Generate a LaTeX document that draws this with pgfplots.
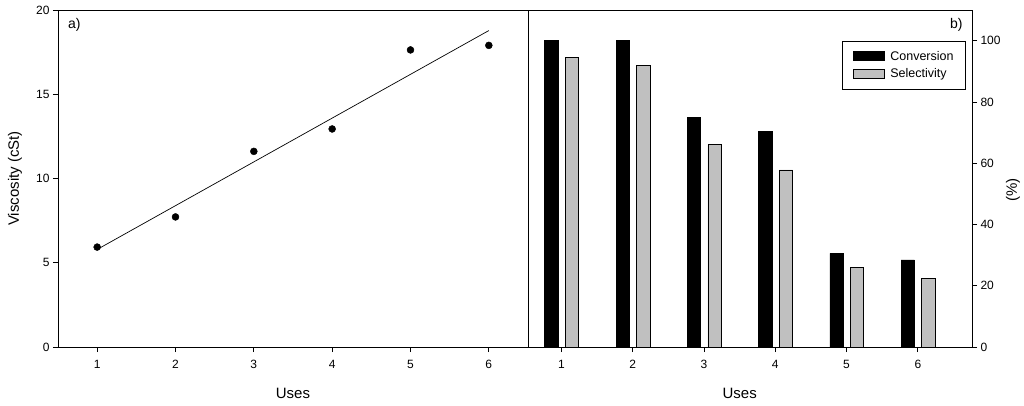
\documentclass[border=0pt]{standalone}
\usepackage{fontspec}
\setmainfont{Liberation Sans}
\usepackage{pgfplots}
\pgfplotsset{compat=1.18}
\definecolor{selgray}{HTML}{C0C0C0}

\pgfplotsset{
  panel/.style={
    scale only axis, height=337pt, anchor=south west,
    axis line style={line width=0.9pt},
    tick style={black, line width=0.8pt},
    tick align=outside, major tick length=5pt,
    tick label style={font=\fontsize{12}{14}\selectfont},
    xticklabel style={yshift=-5pt},
    label style={font=\fontsize{15}{17}\selectfont},
    /pgf/number format/assume math mode=true,
    xtick={1,...,6}, xtick pos=bottom,
  },
  barleg/.style={legend image code/.code={\draw[##1,line width=0.8pt] (0pt,-4.5pt) rectangle (31pt,4.5pt);}},
}

\begin{document}
\begin{tikzpicture}
\useasboundingbox (0pt,0pt) rectangle (1024pt,405pt);

% a) viscosity vs uses
\begin{axis}[panel, at={(58pt,58pt)}, width=470pt,
  xmin=0.5, xmax=6.5, ymin=0, ymax=20, ytick={0,5,...,20}, ytick pos=left,
  xlabel={Uses}, ylabel={Viscosity (cSt)},
  xlabel style={at={(axis description cs:0.5,-0.1365)}, anchor=center},
  ylabel style={at={(axis description cs:-0.0915,0.5)}, anchor=center},
]
\addplot[black, line width=0.7pt, no marks] coordinates {(1,5.79) (6,18.78)};
\addplot[only marks, mark=*, mark size=3.5pt, black] coordinates {
  (1,5.93) (2,7.72) (3,11.61) (4,12.94) (5,17.63) (6,17.90)};
\node[anchor=west, font=\fontsize{14}{16}\selectfont] at (axis description cs:0.014,0.955) {a)};
\end{axis}

% b) conversion and selectivity
\begin{axis}[panel, at={(528pt,58pt)}, width=444pt,
  xmin=0.53, xmax=6.76, ymin=0, ymax=110, ytick={0,20,...,100},
  ytick pos=right, yticklabel pos=right,
  xlabel={Uses}, ylabel={(\%)},
  xlabel style={at={(axis description cs:0.4768,-0.1365)}, anchor=center},
  ylabel style={at={(axis description cs:1.0923,0.466)}, anchor=center},
  legend cell align=left,
  legend style={at={(rel axis cs:0.9865,0.909)}, anchor=north east,
    draw=black, line width=0.9pt, font=\fontsize{12.5}{14}\selectfont,
    inner xsep=10pt, inner ysep=8pt, row sep=3pt,
    /tikz/every odd column/.append style={column sep=4pt}},
]
\addplot[ybar, bar width=13.3pt, bar shift=-10pt, fill=black, draw=black, line width=0.8pt, barleg]
  coordinates {(1,100) (2,100) (3,74.8) (4,70.4) (5,30.6) (6,28.4)};
\addplot[ybar, bar width=13.3pt, bar shift=10.6pt, fill=selgray, draw=black, line width=0.8pt, barleg]
  coordinates {(1,94.6) (2,91.8) (3,66.0) (4,57.8) (5,25.9) (6,22.3)};
\legend{Conversion, Selectivity}
\node[anchor=east, font=\fontsize{14}{16}\selectfont] at (rel axis cs:0.9865,0.955) {b)};
\end{axis}
\end{tikzpicture}
\end{document}
